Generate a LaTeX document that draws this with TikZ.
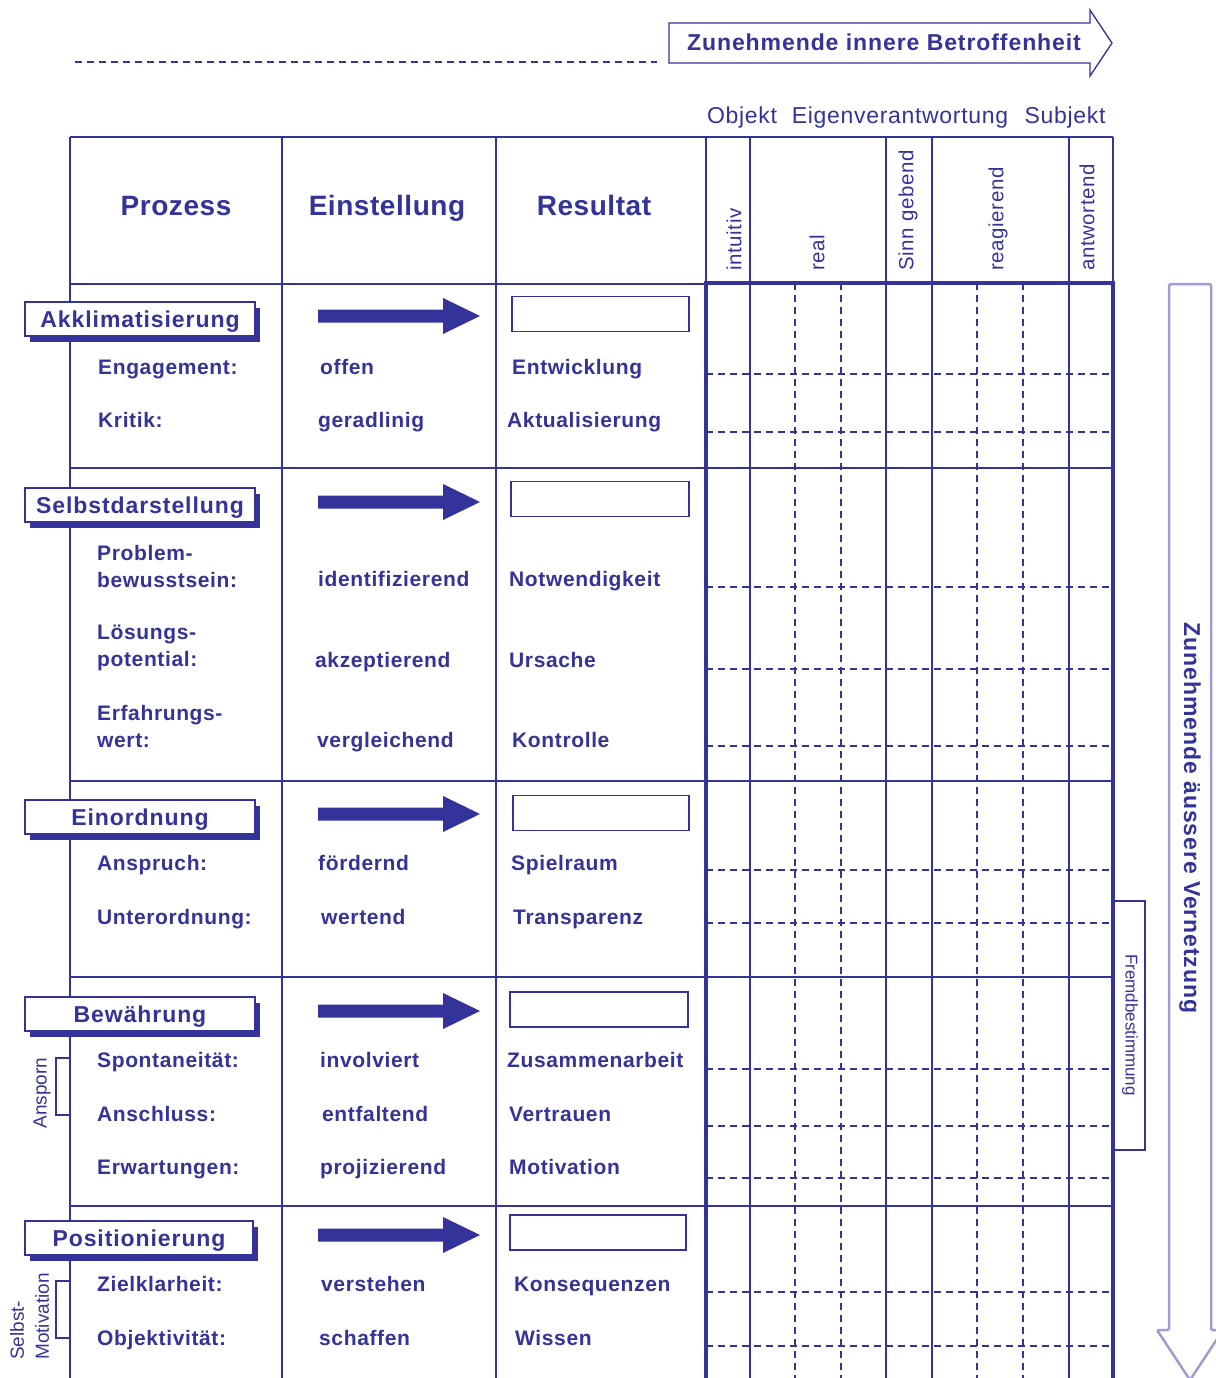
\documentclass[tikz,border=0pt]{standalone}
\usepackage{fontspec}
\setmainfont{Liberation Sans}
\newfontfamily\fbig{Liberation Sans}[LetterSpace=2]
\newfontfamily\flab{Liberation Sans}[LetterSpace=4]
\newfontfamily\frow{Liberation Sans}[LetterSpace=3]
\newfontfamily\fthin{Liberation Sans}[LetterSpace=3]
\usetikzlibrary{shadows}
\definecolor{ink}{HTML}{333399}
\definecolor{pale}{HTML}{9C9CD6}
\tikzset{
  hdr/.style={font=\fbig\bfseries\fontsize{28}{30}\selectfont, text=ink, inner sep=0, anchor=base},
  lab/.style={font=\flab\bfseries\fontsize{23}{26}\selectfont, text=ink, inner sep=0},
  row/.style={font=\frow\bfseries\fontsize{21}{27}\selectfont, text=ink, anchor=mid west, inner sep=0, align=left, yshift=-5pt},
  rowtwo/.style={row, anchor=north west},
  thintxt/.style={font=\fthin\fontsize{23}{26}\selectfont, text=ink, inner sep=0, anchor=base},
  coltxt/.style={font=\fthin\fontsize{20.5}{24}\selectfont, text=ink, inner sep=0, rotate=90, anchor=west},
  sidetxt/.style={font=\fontsize{19}{25}\selectfont, text=ink, inner sep=0},
  labbox/.style={lab, text depth=0pt, draw=ink, line width=1.3pt, fill=white, minimum width=230pt, minimum height=34pt,
     drop shadow={shadow xshift=5pt, shadow yshift=-6pt, fill=ink, opacity=1}},
  resbox/.style={draw=ink, line width=1.5pt, fill=white, minimum width=177pt, minimum height=35pt, inner sep=0},
  thinline/.style={draw=ink, line width=1.3pt},
  gridline/.style={draw=ink, line width=2.3pt},
  frame/.style={draw=ink, line width=4pt},
  dashline/.style={draw=ink, line width=1.4pt, dash pattern=on 7pt off 5pt},
}
\begin{document}
\begin{tikzpicture}[x=1pt,y=-1pt]
\useasboundingbox (0,0) rectangle (1215,1378);

% ---- top arrow ----
\draw[dashline] (75,62) -- (657,62);
\draw[ink, line width=1.3pt, fill=white] (669,23) -- (1090,23) -- (1090,10) -- (1112,43) -- (1090,76) -- (1090,63) -- (669,63) -- cycle;
\node[lab, anchor=base] (topt) at (884,51) {Zunehmende innere Betroffenheit};

\node[thintxt] (obj) at (742,124) {Objekt};
\node[thintxt] (eig) at (900,124) {Eigenverantwortung};
\node[thintxt] (sub) at (1065,124) {Subjekt};

% ---- table lines ----
\draw[thinline] (70,137) -- (1113,137);
\foreach \x in {70,282,496} \draw[thinline] (\x,137) -- (\x,1378);
\draw[thinline] (706,137) -- (706,283);
\draw[thinline] (1113,137) -- (1113,283);
\foreach \x in {750,886,932,1069} \draw[gridline] (\x,137) -- (\x,1378);
\foreach \x in {795,841,977,1023} \draw[dashline] (\x,283) -- (\x,1378);
\foreach \y in {374,432,587,669,746,870,923,1069,1126,1178,1292,1346} \draw[dashline] (706,\y) -- (1113,\y);
\draw[thinline] (70,284) -- (706,284);
\foreach \y in {468,781,977,1206} \draw[thinline] (70,\y) -- (1113,\y);
\draw[frame] (706,1378) -- (706,283) -- (1113,283) -- (1113,1378);

% ---- headers ----
\node[hdr] (hp) at (176,215) {Prozess};
\node[hdr] (he) at (387,215) {Einstellung};
\node[hdr] (hr) at (594,215) {Resultat};
\node[coltxt] (c1) at (734,271) {intuitiv};
\node[coltxt] (c2) at (817,271) {real};
\node[coltxt] (c3) at (908,271) {Sinn gebend};
\node[coltxt] (c4) at (998,271) {reagierend};
\node[coltxt] (c5) at (1087,271) {antwortend};

% ---- section labels ----
\node[labbox] (s1) at (140,319) {Akklimatisierung};
\node[labbox] (s2) at (140,505) {Selbstdarstellung};
\node[labbox] (s3) at (140,817) {Einordnung};
\node[labbox] (s4) at (140,1014) {Bewährung};
\node[labbox, minimum width=228pt] (s5) at (139,1238) {Positionierung};

% ---- arrows in Einstellung ----
\foreach \c in {316,502,814,1011,1235}
  \fill[ink] (318,\c-6.5) -- (443,\c-6.5) -- (443,\c-18) -- (480,\c) -- (443,\c+18) -- (443,\c+6.5) -- (318,\c+6.5) -- cycle;

% ---- result boxes ----
\node[resbox, minimum width=177pt] (r1) at (600.5,314) {};
\node[resbox, minimum width=178pt] (r2) at (600,499) {};
\node[resbox, minimum width=176pt] (r3) at (601,813) {};
\node[resbox, minimum width=178pt] (r4) at (599,1009.5) {};
\node[resbox, minimum width=176pt] (r5) at (598,1232.5) {};

% ---- rows ----
\node[row] (a1) at (98,367) {Engagement:};
\node[row] (a2) at (320,367) {offen};
\node[row] (a3) at (512,367) {Entwicklung};
\node[row] (a4) at (98,420) {Kritik:};
\node[row] (a5) at (318,420) {geradlinig};
\node[row] (a6) at (507,420) {Aktualisierung};

\node[rowtwo] (b1) at (97,540) {Problem-\\bewusstsein:};
\node[row] (b2) at (318,579) {identifizierend};
\node[row] (b3) at (509,579) {Notwendigkeit};
\node[rowtwo] (b4) at (97,620) {Lösungs-\\potential:};
\node[row] (b5) at (315,660) {akzeptierend};
\node[row] (b6) at (509,660) {Ursache};
\node[rowtwo] (b7) at (97,700) {Erfahrungs-\\wert:};
\node[row] (b8) at (317,740) {vergleichend};
\node[row] (b9) at (512,740) {Kontrolle};

\node[row] (e1) at (97,863) {Anspruch:};
\node[row] (e2) at (318,863) {fördernd};
\node[row] (e3) at (511,863) {Spielraum};
\node[row] (e4) at (97,917) {Unterordnung:};
\node[row] (e5) at (321,917) {wertend};
\node[row] (e6) at (513,917) {Transparenz};

\node[row] (w1) at (97,1060) {Spontaneität:};
\node[row] (w2) at (320,1060) {involviert};
\node[row] (w3) at (507,1060) {Zusammenarbeit};
\node[row] (w4) at (97,1114) {Anschluss:};
\node[row] (w5) at (322,1114) {entfaltend};
\node[row] (w6) at (509,1114) {Vertrauen};
\node[row] (w7) at (97,1167) {Erwartungen:};
\node[row] (w8) at (320,1167) {projizierend};
\node[row] (w9) at (509,1167) {Motivation};

\node[row] (p1) at (97,1284) {Zielklarheit:};
\node[row] (p2) at (321,1284) {verstehen};
\node[row] (p3) at (514,1284) {Konsequenzen};
\node[row] (p4) at (97,1338) {Objektivität:};
\node[row] (p5) at (319,1338) {schaffen};
\node[row] (p6) at (515,1338) {Wissen};

% ---- side brackets ----
\draw[thinline] (70,1058) -- (56,1058) -- (56,1115) -- (70,1115);
\node[sidetxt, rotate=90] (ansp) at (42,1093) {Ansporn};
\draw[thinline] (70,1281) -- (56,1281) -- (56,1338) -- (70,1338);
\node[sidetxt, rotate=90, align=left, anchor=north west] (selb) at (10,1360) {Selbst-\\Motivation};

% ---- Fremdbestimmung ----
\draw[thinline] (1113,901) -- (1145,901) -- (1145,1150) -- (1113,1150);
\node[font=\fontsize{17}{20}\selectfont, text=ink, inner sep=0, rotate=-90] (fremd) at (1130,1025) {Fremdbestimmung};

% ---- big down arrow ----
\draw[pale, line width=2.5pt, rounded corners=1.5pt] (1169,1330) -- (1169,284) -- (1211,284) -- (1211,1330) -- (1223,1330) -- (1190,1380) -- (1157,1330) -- cycle;
\node[lab, rotate=-90] (vern) at (1190,818) {Zunehmende äussere Vernetzung};
\end{tikzpicture}
\end{document}
